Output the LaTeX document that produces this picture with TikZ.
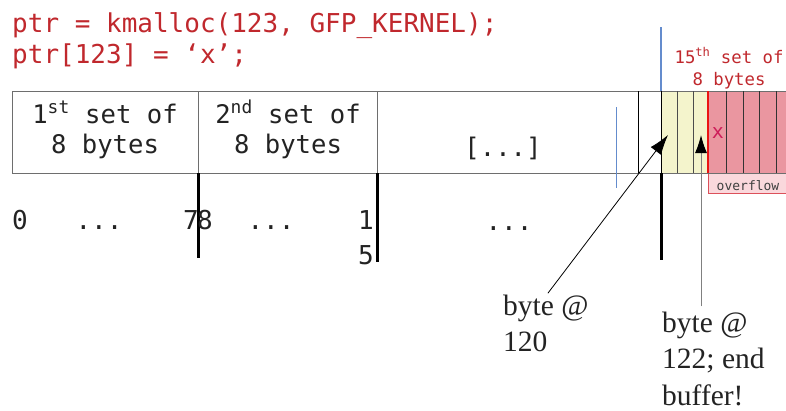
\documentclass[tikz,border=0pt]{standalone}
\usepackage{fontspec}
\setmainfont{Liberation Serif}
\setmonofont{DejaVu Sans Mono}
\usetikzlibrary{arrows.meta}
\definecolor{codered}{RGB}{192,40,45}
\definecolor{boxgray}{RGB}{110,110,110}
\definecolor{cellyellow}{RGB}{244,244,204}
\definecolor{cellpink}{RGB}{234,150,160}
\definecolor{ovpink}{RGB}{250,216,220}
\definecolor{ovred}{RGB}{220,80,90}
\definecolor{linered}{RGB}{235,20,20}
\definecolor{blueline}{RGB}{100,140,205}
\definecolor{xmag}{RGB}{205,30,90}
\definecolor{textdark}{RGB}{35,35,35}
\begin{document}
\begin{tikzpicture}[x=1pt,y=-1pt,
  code/.style={font=\fontsize{26}{31}\selectfont\ttfamily, text=codered, inner sep=0pt, anchor=base west},
  lbl/.style={font=\fontsize{25.6}{30}\selectfont\ttfamily, text=textdark, inner sep=0pt, anchor=base},
  num/.style={font=\fontsize{26}{30}\selectfont\ttfamily, text=textdark, inner sep=0pt},
  note/.style={font=\fontsize{29.5}{36.5}\selectfont, text=textdark, inner sep=0pt, anchor=base west},
  bar/.style={line width=3pt, black},
  thinline/.style={line width=0.8pt},
  ptr/.style={-{Latex[length=20pt,width=13pt]}, line width=0.8pt},
  ptrgray/.style={-{Latex[length=18pt,width=12pt,black]}, line width=1pt, draw=black!50}]
\useasboundingbox (0,0) rectangle (786,410);

% code
\node[code] (c1) at (12,32) {ptr = kmalloc(123, GFP\textunderscore KERNEL);};
\node[code] (c2) at (12,63) {ptr[123] = ‘x’;};

% fills
\fill[cellyellow] (661,91) rectangle (708,173);
\fill[cellpink] (708,91) rectangle (786,173);
\draw[ovred, fill=ovpink, thinline] (708,173) rectangle (787,193);

% box outline
\draw[boxgray, thinline] (12,91) rectangle (787,173);
\foreach \x in {198,377} \draw[boxgray, thinline] (\x,91) -- (\x,173);
\draw[black, thinline] (638,91) -- (638,173);
\draw[black, line width=1pt] (661,91) -- (661,173);
\foreach \x in {677,693} \draw[black!70, thinline] (\x,91) -- (\x,173);
\foreach \x in {726,743,759,776} \draw[black!80, thinline] (\x,91) -- (\x,173);
\draw[linered, line width=2.6pt] (708,91) -- (708,173);

% blue lines
\draw[blueline, line width=1pt] (616,107) -- (616,188);
\draw[blueline, line width=1.2pt] (661,27) -- (661,91);

% labels in box
\node[lbl] (s1) at (105,123) {\begin{tabular}[t]{@{}c@{}}1\textsuperscript{st} set of\\8 bytes\end{tabular}};
\node[lbl] (s2) at (288,123) {\begin{tabular}[t]{@{}c@{}}2\textsuperscript{nd} set of\\8 bytes\end{tabular}};
\node[lbl] (dots) at (503,156) {[...]};
\node[font=\fontsize{17.3}{22}\selectfont\ttfamily, text=codered, inner sep=0pt, anchor=base] (s15) at (729,63) {\begin{tabular}[t]{@{}c@{}}15\textsuperscript{th} set of\\8 bytes\end{tabular}};
\node[font=\fontsize{20}{22}\selectfont\ttfamily, text=xmag, inner sep=0pt] (xx) at (718,133) {x};
\node[font=\fontsize{13}{15}\selectfont\ttfamily, text=black!75, inner sep=0pt, anchor=base] (ov) at (748,190) {overflow};

% bars
\draw[bar] (198,173) -- (198,258);
\draw[bar] (377,173) -- (377,262);
\draw[bar] (661,173) -- (661,260);

% numbers
\node[num, anchor=base west] (n0) at (12,229) {0};
\node[num, anchor=base] (d1) at (99,229) {...};
\node[num, anchor=base east] (n7) at (199,229) {7};
\node[num, anchor=base west] (n8) at (197,229) {8};
\node[num, anchor=base] (d2) at (271,229) {...};
\node[num, anchor=base west] (n1) at (358,229) {1};
\node[num, anchor=base west] (n5) at (358,264) {5};
\node[num, anchor=base] (d3) at (509,230) {...};

% notes and arrows
\coordinate (t120) at (668,135);
\coordinate (t122) at (701,135);
\node[note] (b120) at (503,315) {\begin{tabular}[t]{@{}l@{}}byte @\\120\end{tabular}};
\node[note] (b122) at (662,332) {\begin{tabular}[t]{@{}l@{}}byte @\\122; end\\buffer!\end{tabular}};
\draw[ptr] ([xshift=2pt,yshift=-4pt]b120.north) -- (t120);
\draw[ptrgray] (t122 |- b122.north) -- (t122);
\end{tikzpicture}
\end{document}
